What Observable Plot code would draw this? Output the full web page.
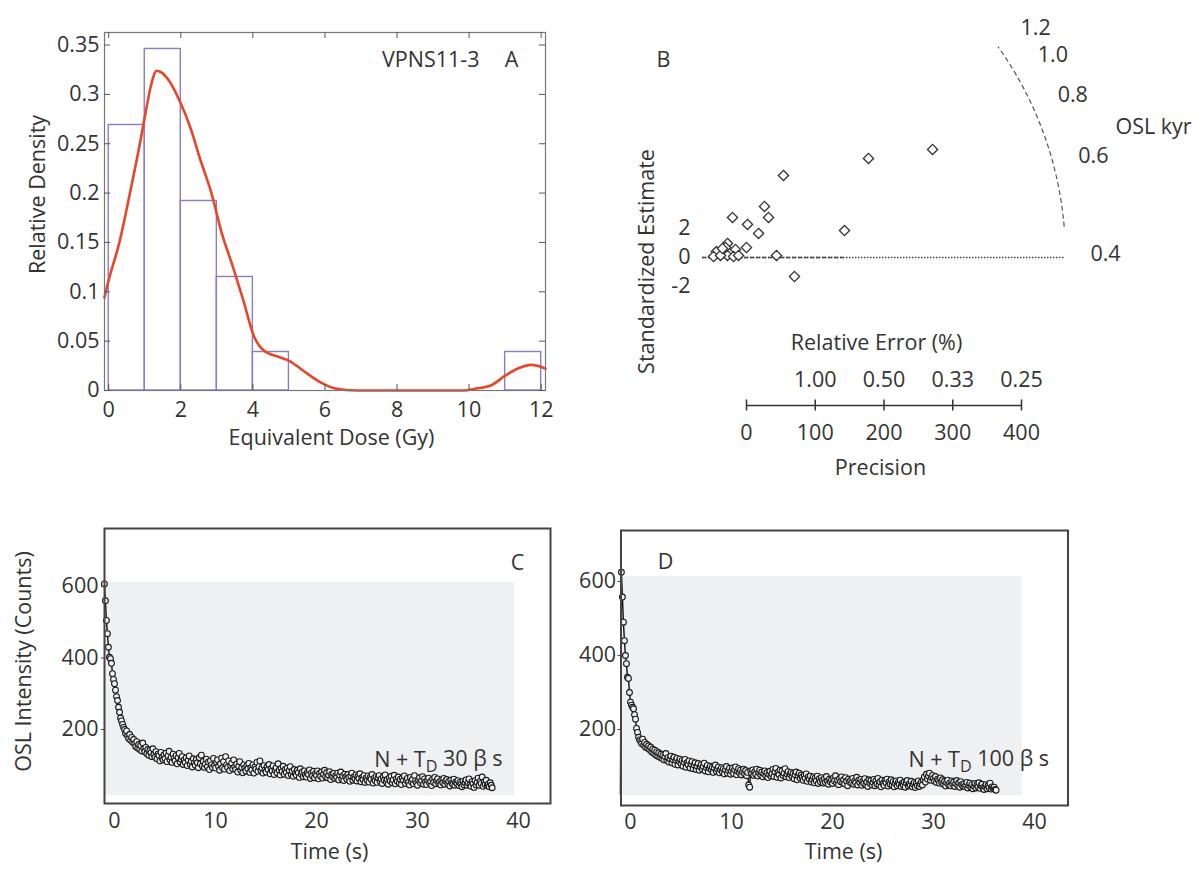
<!DOCTYPE html>
<html><head><meta charset="utf-8">
<script src="https://cdn.jsdelivr.net/npm/d3@7"></script>
<script src="https://cdn.jsdelivr.net/npm/@observablehq/plot@0.6"></script>
<style>
html,body{margin:0;padding:0;background:#fff;}
#fig{position:relative;width:1199px;height:877px;overflow:hidden;font-family:"Open Sans",sans-serif;background:#fff;}
#fig > div{position:absolute;}
svg{overflow:visible}
</style></head><body><div id="fig"></div>
<script>
// ---------- Panel A: histogram + KDE ----------
const binLo = [0, 1, 2, 3, 4, 11];
const binHi = [1, 2, 3, 4, 5, 12];
const binDensity = [0.269, 0.346, 0.192, 0.115, 0.039, 0.039];
const kdeX = [-0.12, 0, 0.29, 0.59, 0.88, 1.03, 1.18, 1.33, 1.47, 1.67, 1.96, 2.26, 2.55, 2.85, 3.14, 3.44, 3.73, 4.03, 4.32, 4.72, 5.01, 5.40, 5.89, 6.29, 6.88, 9.82, 10.2, 10.6, 11.0, 11.4, 11.7, 11.9, 12.12];
const kdeY = [0.094, 0.112, 0.149, 0.200, 0.253, 0.283, 0.310, 0.324, 0.322, 0.314, 0.294, 0.267, 0.233, 0.200, 0.159, 0.126, 0.092, 0.055, 0.040, 0.034, 0.030, 0.020, 0.008, 0.002, 0, 0, 0.002, 0.005, 0.015, 0.023, 0.026, 0.025, 0.022];
const xTicksA = [0, 2, 4, 6, 8, 10, 12];
const yTicksA = [0, 0.05, 0.1, 0.15, 0.2, 0.25, 0.3, 0.35];

// ---------- Panel B: radial plot ----------
const precision = [335.8, 242.3, 118.2, 90.5, 96.4, 43.8, 65.7, 81.8, 207.3, 64.2, 36.5, 20.4, 33.6, 48.2, 36.5, 45.3, 16.1, 108, 134.3, 26.3, 29.2, 52.6];
const stdEstimate = [7.45, 6.83, 5.66, 3.52, 2.76, 2.76, 2.28, 1.66, 1.86, 0.69, 0.97, 0.41, 0.69, 0.55, 0.14, 0.07, 0.07, 0.14, -1.31, 0.14, 0.62, 0.14];
const yTicksB = [-2, 0, 2];
const ageTicks = [0.4, 0.6, 0.8, 1.0, 1.2];
const arcAges = [0.46, 1.26];
const centralAge = 0.4;
const precisionTicks = [0, 100, 200, 300, 400];
const dashedCentralEnd = 206;

// ---------- Panels C, D: OSL decay curves (0.1 s channels from -1.0 s) ----------
const channelStart = -1.0, channelStep = 0.1;
const countsC = [
 607,560,505,468,430,402,398,385,356,340,
 328,310,292,281,262,248,232,224,214,206,
 200,189,196,182,175,186,170,178,164,172,
 160,152,166,148,158,144,155,140,162,146,
 138,150,132,144,128,141,135,124,146,130,
 122,138,118,131,127,112,136,121,115,129,
 118,134,110,126,139,115,122,108,131,119,
 112,127,104,121,133,109,117,124,102,115,
 108,121,99,114,126,103,111,95,118,106,
 100,116,107,93,121,104,128,98,111,94,
 103,117,96,109,88,112,101,94,119,99,
 92,108,115,97,86,104,120,93,110,89,
 124,101,94,112,85,99,106,90,115,96,
 88,103,81,97,110,86,94,79,101,92,
 84,98,90,105,80,93,87,101,78,95,
 89,108,83,96,112,85,92,78,99,87,
 81,95,88,102,76,90,84,98,74,87,
 93,79,104,86,73,91,82,97,75,88,
 80,92,71,85,96,74,83,69,88,77,
 72,86,79,66,90,75,81,68,84,73,
 67,80,74,87,63,78,70,83,65,76,
 71,84,62,77,69,81,64,75,86,68,
 79,65,73,82,60,74,68,77,63,71,
 66,78,59,72,81,62,70,57,75,67,
 61,74,66,55,70,78,58,67,62,73,
 56,69,63,76,54,65,60,71,52,64,
 58,70,53,66,61,74,50,63,57,68,
 52,65,71,55,62,49,67,58,73,54,
 60,47,64,56,69,51,59,72,48,62,
 55,67,50,61,46,64,57,70,49,58,
 63,52,45,66,54,60,48,71,56,50,
 44,59,65,51,57,68,47,62,53,46,
 58,64,50,55,43,61,52,66,48,57,
 62,49,54,45,59,51,63,47,56,60,
 48,55,42,58,50,46,61,44,53,49,
 57,43,52,47,40,55,45,51,59,44,
 50,62,46,41,54,48,38,57,45,52,
 64,44,55,49,67,41,53,46,58,43,
 47,40,51,44,37];
const countsD = [
 25,625,558,490,440,400,378,341,338,300,
 274,266,260,256,240,228,203,192,179,172,
 168,162,174,158,165,152,160,149,156,145,
 152,139,147,136,144,131,140,128,137,125,
 133,122,130,118,127,135,116,124,112,121,
 128,110,119,125,106,117,122,104,114,120,
 108,116,101,112,119,98,110,105,115,96,
 107,113,94,104,110,92,101,108,90,99,
 105,93,100,109,88,97,103,86,95,101,
 91,98,84,96,104,87,93,99,83,92,
 97,85,94,80,91,100,82,89,95,79,
 88,96,81,92,99,78,87,94,83,90,
 77,86,93,80,89,75,84,50,44,88,
 82,91,76,86,79,93,74,84,90,77,
 85,72,81,88,75,83,70,79,87,74,
 80,92,73,86,95,71,84,78,90,69,
 88,76,82,94,72,80,86,70,79,84,
 73,81,67,78,85,64,75,82,68,77,
 71,63,76,68,80,60,72,66,74,58,
 65,72,56,69,61,74,54,67,59,70,
 62,55,68,57,73,60,52,66,58,64,
 54,69,61,75,56,63,51,67,59,72,
 57,64,53,70,60,48,66,58,62,55,
 68,52,61,56,71,50,63,57,65,49,
 60,54,67,51,58,46,64,55,62,50,
 57,65,48,61,53,68,50,59,45,63,
 54,49,62,56,66,47,58,52,64,50,
 59,45,55,61,48,57,52,63,46,54,
 50,58,44,56,62,47,53,49,60,45,
 52,57,43,55,48,61,46,53,58,50,
 64,72,58,79,66,74,82,63,70,76,
 68,60,73,57,66,62,55,69,58,64,
 52,60,47,57,63,50,55,48,61,53,
 58,46,54,62,49,56,44,59,51,47,
 53,45,50,57,42,49,55,44,51,40,
 47,54,42,50,45,56,41,48,52,43,
 38,46,51,40,48,43,55,39,45,41,
 44,38,36];
const timeTicks = [0, 10, 20, 30, 40];
const countTicks = [200, 400, 600];

// ---------- helpers ----------
const fig = document.getElementById("fig");
const FONT = '"Open Sans", sans-serif';
const TXT = "#333";
function place(el, left, top) {
  const d = document.createElement("div");
  d.style.left = left + "px"; d.style.top = top + "px";
  d.appendChild(el); fig.appendChild(d);
}
const baseStyle = {fontFamily: FONT, fontSize: "21.5px", color: TXT, background: "transparent", overflow: "visible"};
// annotation text placed relative to the frame's top-left corner, centred on (dx, dy)
function label(s, dx, dy, opts = {}) {
  return Plot.text([s], {text: d => d, frameAnchor: "top-left", dx, dy, textAnchor: "middle", lineAnchor: "middle", ...opts});
}
function subscriptD(svg) {
  svg.querySelectorAll("text").forEach(t => {
    const s = t.textContent;
    if (s.includes("T_D")) {
      const [pre, post] = s.split("T_D");
      t.textContent = "";
      const ns = "http://www.w3.org/2000/svg";
      const a = document.createElementNS(ns, "tspan"); a.textContent = pre + "T";
      const b = document.createElementNS(ns, "tspan"); b.textContent = "D";
      b.setAttribute("dy", "0.3em"); b.setAttribute("font-size", "75%");
      const c = document.createElementNS(ns, "tspan"); c.textContent = post;
      c.setAttribute("dy", "-0.3em");
      t.append(a, b, c);
    }
  });
}

// ---------- Panel A ----------
{
  const W = 560, H = 470, ml = 104, mr = 15, mt = 32, mb = 80;
  const xd = [-0.117, 12.12], yd = [0, 0.3627];
  const kx = (W - ml - mr) / (xd[1] - xd[0]);
  const ky = (H - mt - mb) / (yd[1] - yd[0]);
  const tk = 6;
  const bins = binLo.map((lo, i) => ({lo, hi: binHi[i], d: binDensity[i]}));
  const kde = kdeX.map((x, i) => ({x, y: kdeY[i]}));
  const svg = Plot.plot({
    width: W, height: H, marginLeft: ml, marginRight: mr, marginTop: mt, marginBottom: mb,
    style: baseStyle,
    x: {domain: xd, axis: null}, y: {domain: yd, axis: null},
    marks: [
      Plot.rect(bins, {x1: "lo", x2: "hi", y1: 0, y2: "d", fill: "none", stroke: "#8a7cc6", strokeWidth: 1.4}),
      Plot.line(kde, {x: "x", y: "y", stroke: "#e8462a", strokeWidth: 2.6, curve: "monotone-x"}),
      Plot.frame({stroke: "#777", strokeWidth: 1.2}),
      Plot.ruleY(yTicksA, {y: d => d, x1: xd[0], x2: xd[0] + tk / kx, stroke: "#555"}),
      Plot.ruleY(yTicksA, {y: d => d, x1: xd[1] - tk / kx, x2: xd[1], stroke: "#555"}),
      Plot.ruleX(xTicksA, {x: d => d, y1: yd[1] - tk / ky, y2: yd[1], stroke: "#555"}),
      Plot.ruleX(xTicksA, {x: d => d, y1: 0, y2: tk / ky, stroke: "#555"}),
      Plot.axisY(yTicksA, {tickSize: 0, tickPadding: 5, tickFormat: d => String(d), label: null}),
      Plot.axisX(xTicksA, {tickSize: 0, tickPadding: 11, label: null}),
      label("VPNS11-3", 375, 28, {textAnchor: "end"}),
      label("A", 407, 28),
      label("Relative Density", -66, 162, {rotate: -90}),
      label("Equivalent Dose (Gy)", 227, 406)
    ]
  });
  place(svg, 0, 0);
}

// ---------- Panel B: scatter + radial age axis ----------
{
  const W = 639, H = 320, ml = 142, mr = 0, mt = 0, mb = 20;
  const xd = [0, 725.5], yd = [-2.966, 17.724];
  const kx = (W - ml - mr) / (xd[1] - xd[0]);
  const ky = (H - mt - mb) / (yd[1] - yd[0]);
  const arcR = 363, labelR = 403, slope = 0.62;
  const theta = a => Math.atan(slope * Math.log(a / centralAge));
  const polar = (r, th) => ({x: r * Math.cos(th) / kx, y: r * Math.sin(th) / ky});
  const th0 = theta(arcAges[0]), th1 = theta(arcAges[1]);
  const arc = d3.range(0, 41).map(i => polar(arcR, th0 + (th1 - th0) * i / 40));
  const ageLabels = ageTicks.map(a => ({...polar(labelR, theta(a)), label: a.toFixed(1)}));
  const pts = precision.map((p, i) => ({x: p, y: stdEstimate[i]}));
  const svg = Plot.plot({
    width: W, height: H, marginLeft: ml, marginRight: mr, marginTop: mt, marginBottom: mb,
    style: baseStyle,
    x: {domain: xd, axis: null}, y: {domain: yd, axis: null},
    marks: [
      Plot.line(arc, {x: "x", y: "y", stroke: "#555", strokeWidth: 1.2, strokeDasharray: "4,4"}),
      Plot.ruleY([0], {x1: 0, x2: arcR / kx, stroke: "#444", strokeWidth: 1.6, strokeDasharray: "1.5,1.5"}),
      Plot.ruleY([0], {x1: 0, x2: dashedCentralEnd, stroke: "#444", strokeWidth: 1.6, strokeDasharray: "4,2"}),
      Plot.dot(pts, {x: "x", y: "y", symbol: "diamond2", r: 4.6, stroke: "#333", strokeWidth: 1.3, fill: "white"}),
      Plot.axisY(yTicksB, {tickSize: 0, tickPadding: 12, tickFormat: d => String(d), label: null}),
      Plot.text(ageLabels, {x: "x", y: "y", text: "label", dy: -3}),
      label("OSL kyr", 451, 127),
      label("B", -39, 60),
      label("Standardized Estimate", -55, 261, {rotate: -90})
    ]
  });
  place(svg, 560, 0);
}

// ---------- Panel B: precision / relative error axis ----------
{
  const W = 360, H = 170, ml = 46, mr = 39;
  const svg = Plot.plot({
    width: W, height: H, marginLeft: ml, marginRight: mr, marginTop: 0, marginBottom: 0,
    style: baseStyle,
    x: {domain: [0, 400], axis: null}, y: {domain: [-1, 1], axis: null},
    marks: [
      Plot.ruleY([0], {x1: 0, x2: 400, stroke: "#333", strokeWidth: 1.5}),
      Plot.ruleX(precisionTicks, {x: d => d, y1: -0.065, y2: 0.065, stroke: "#333", strokeWidth: 1.5}),
      Plot.text(precisionTicks, {x: d => d, y: 0, dy: 28, text: d => String(d)}),
      Plot.text(precisionTicks.filter(d => d > 0), {x: d => d, y: 0, dy: -25, text: d => (100 / d).toFixed(2)}),
      label("Relative Error (%)", 130, 23),
      label("Precision", 134, 148)
    ]
  });
  place(svg, 700, 320);
}

// ---------- Panels C and D ----------
function oslPanel(cfg) {
  const data = cfg.counts.map((c, i) => ({t: channelStart + i * channelStep, c}));
  const svg = Plot.plot({
    width: cfg.W, height: cfg.H, marginLeft: cfg.ml, marginRight: cfg.mr, marginTop: cfg.mt, marginBottom: cfg.mb,
    style: baseStyle,
    x: {domain: cfg.xd, axis: null}, y: {domain: cfg.yd, axis: null},
    marks: [
      Plot.rect([cfg.shade], {x1: "x1", x2: "x2", y1: "y1", y2: "y2", fill: "#eef0f1"}),
      Plot.line(data, {x: "t", y: "c", stroke: "#111", strokeWidth: 1.4}),
      Plot.dot(data, {x: "t", y: "c", r: 2.9, stroke: "#1a1a1a", strokeWidth: 1.1, fill: "#f2f2f2", filter: d => d.c > 30}),
      Plot.frame({stroke: "#444", strokeWidth: 2}),
      Plot.axisY(countTicks, {tickSize: 3, tickPadding: cfg.yPad, label: null, stroke: "#444"}),
      Plot.axisX(timeTicks, {tickSize: 0, tickPadding: cfg.xPad, label: null}),
      label(cfg.letter, cfg.letterPos[0], cfg.letterPos[1]),
      label(cfg.note, cfg.notePos[0], cfg.notePos[1], {textAnchor: "end"}),
      label("Time (s)", cfg.timePos[0], cfg.timePos[1]),
      ...(cfg.ylabel ? [label(cfg.ylabel, cfg.ylabelPos[0], cfg.ylabelPos[1], {rotate: -90})] : [])
    ]
  });
  subscriptD(svg);
  place(svg, cfg.left, cfg.top);
}

oslPanel({
  left: 0, top: 490, W: 580, H: 387, ml: 104, mr: 30, mt: 38, mb: 74,
  xd: [-0.99, 43.17], yd: [-7, 762],
  shade: {x1: -0.89, x2: 39.6, y1: 15, y2: 611},
  counts: countsC, yPad: 3, xPad: 9,
  letter: "C", letterPos: [413, 35],
  note: "N + T_D 30 β s", notePos: [398, 232],
  timePos: [225, 324],
  ylabel: "OSL Intensity (Counts)", ylabelPos: [-80, 133]
});
oslPanel({
  left: 580, top: 490, W: 520, H: 387, ml: 40.5, mr: 32.5, mt: 40, mb: 72,
  xd: [-0.94, 43.32], yd: [-5.4, 737.8],
  shade: {x1: -0.79, x2: 38.8, y1: 21.6, y2: 613.5},
  counts: countsD, yPad: 2, xPad: 8,
  letter: "D", letterPos: [44.5, 32],
  note: "N + T_D 100 β s", notePos: [428, 230],
  timePos: [222.5, 322]
});
</script></body></html>
